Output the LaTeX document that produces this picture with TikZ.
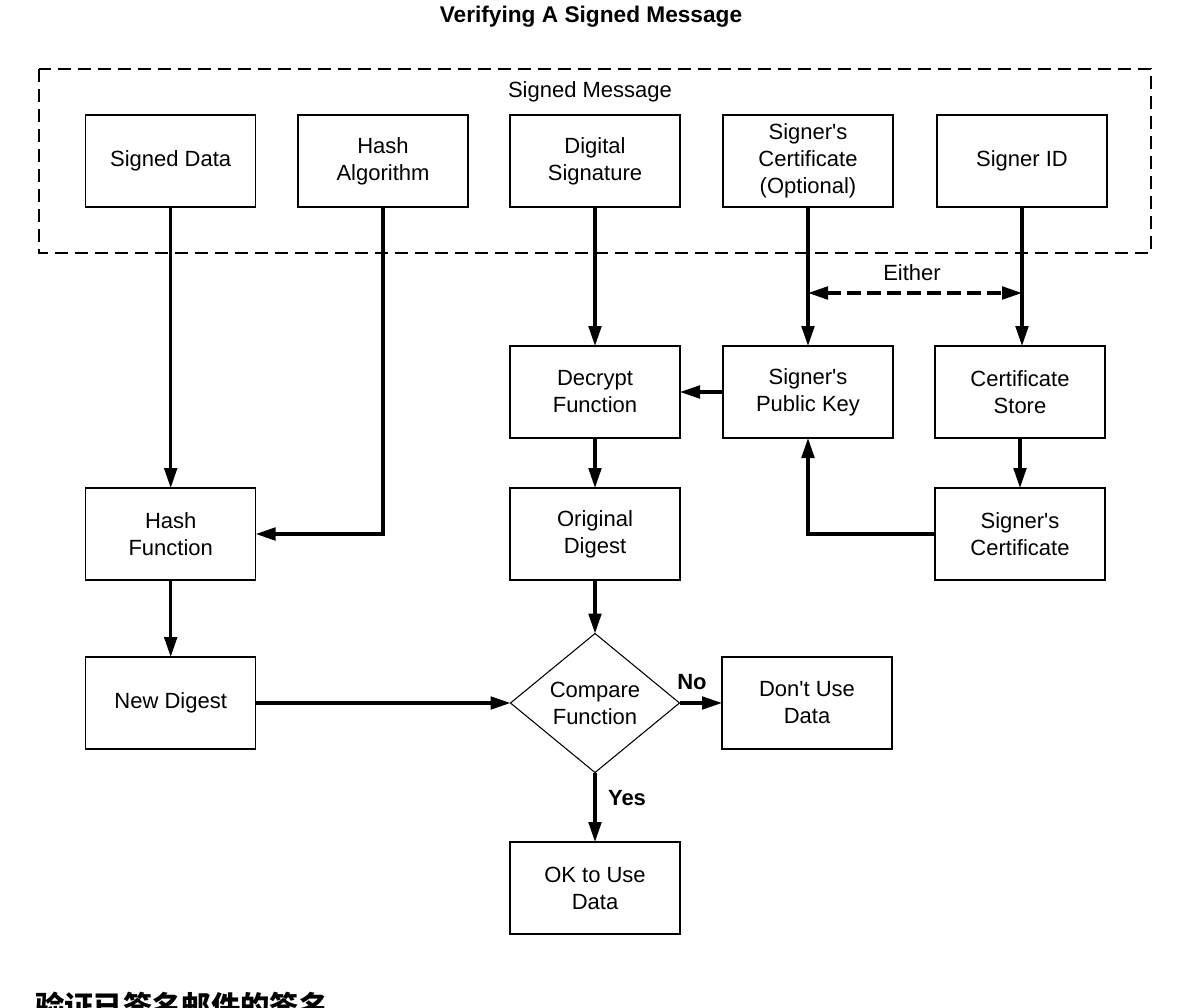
\documentclass[tikz,border=0pt]{standalone}
\usepackage{fontspec}
\setmainfont{Liberation Sans}
\newfontfamily\cjk{Noto Sans CJK SC}
\usetikzlibrary{arrows.meta,shapes.geometric}
\tikzset{
  boxnode/.style={draw, line width=0.8pt, minimum width=127.5pt, minimum height=69pt,
    inner sep=0pt, outer sep=0pt, align=center, font=\fontsize{16.5}{20.25}\selectfont},
  flow/.style={line width=2.4pt, -{Triangle[length=15pt,width=9.5pt]}},
  eitherline/.style={line width=2.4pt, dash pattern=on 10pt off 5pt,
    {Triangle[length=15pt,width=9.5pt]}-{Triangle[length=15pt,width=9.5pt]}},
  frame/.style={line width=0.8pt, dash pattern=on 10pt off 5pt},
  lbl/.style={font=\fontsize{16.5}{20.25}\selectfont, inner sep=0pt},
  boldlbl/.style={font=\fontsize{16.5}{20.25}\selectfont\bfseries, inner sep=0pt}
}
\begin{document}
\begin{tikzpicture}[x=0.75pt, y=-0.75pt]
\useasboundingbox (0,0) rectangle (1189,1007);
% title
\node[font=\fontsize{17}{20}\selectfont\bfseries, anchor=base, inner sep=0pt] (title) at (591,22.5) {Verifying A Signed Message};
% frame
\draw[frame] (39,69) rectangle (1151,253);
\node[lbl] (sm) at (590,92) {Signed Message};
% row 1
\node[boxnode] (sd)  at (170.7,161) {Signed Data};
\node[boxnode] (ha)  at (383,161) {Hash\\Algorithm};
\node[boxnode] (ds)  at (595,161) {Digital\\Signature};
\node[boxnode] (sc)  at (808,161) {Signer\textquotesingle s\\Certificate\\(Optional)};
\node[boxnode] (sid) at (1022,161) {Signer ID};
% row 2
\node[boxnode] (dec) at (595,392) {Decrypt\\Function};
\node[boxnode] (pk)  at (808,392) {Signer\textquotesingle s\\Public Key};
\node[boxnode] (cs)  at (1020,392) {Certificate\\Store};
% row 3
\node[boxnode] (hf)    at (170.7,534) {Hash\\Function};
\node[boxnode] (od)    at (595,534) {Original\\Digest};
\node[boxnode] (scert) at (1020,534) {Signer\textquotesingle s\\Certificate};
% row 4
\node[boxnode] (nd) at (170.7,703) {New Digest};
\node[draw, diamond, line width=0.8pt, minimum width=126.75pt, minimum height=104.25pt,
      aspect=1.216, inner sep=0pt, outer sep=0pt, align=center,
      font=\fontsize{16.5}{20.25}\selectfont] (cmp) at (595,703) {Compare\\Function};
\node[boxnode] (dont) at (807,703) {Don\textquotesingle t Use\\Data};
% row 5
\node[boxnode] (ok) at (595,888) {OK to Use\\Data};
% connectors
\draw[flow] (sd.south) -- (hf.north);
\draw[flow] (ha.south) |- (hf.east);
\draw[flow] (ds.south) -- (dec.north);
\draw[flow] (sc.south) -- (pk.north);
\draw[flow] (sid.south) -- (sid.south |- cs.north);
\draw[flow] (pk.west) -- (dec.east);
\draw[flow] (dec.south) -- (od.north);
\draw[flow] (cs.south) -- (scert.north);
\draw[flow] (scert.west) -| (pk.south);
\draw[flow] (hf.south) -- (nd.north);
\draw[flow] (od.south) -- (cmp.north);
\draw[flow] (nd.east) -- (cmp.west);
\draw[flow] (cmp.east) -- (dont.west);
\draw[flow] (cmp.south) -- (ok.north);
% either
\coordinate (ey) at (0,293);
\coordinate (e1) at (sc.south |- ey);
\coordinate (e2) at (sid.south |- ey);
\draw[eitherline] (e1) -- (e2);
\node[lbl] (either) at (912,273) {Either};
% labels
\node[boldlbl] (no) at (692,682) {No};
\node[boldlbl] (yes) at (627,798) {Yes};
% bottom caption
\node[font=\fontsize{22}{26}\selectfont\cjk\bfseries, anchor=base west, inner sep=0pt] (cap) at (35,1017.5) {验证已签名邮件的签名};
\end{tikzpicture}
\end{document}
